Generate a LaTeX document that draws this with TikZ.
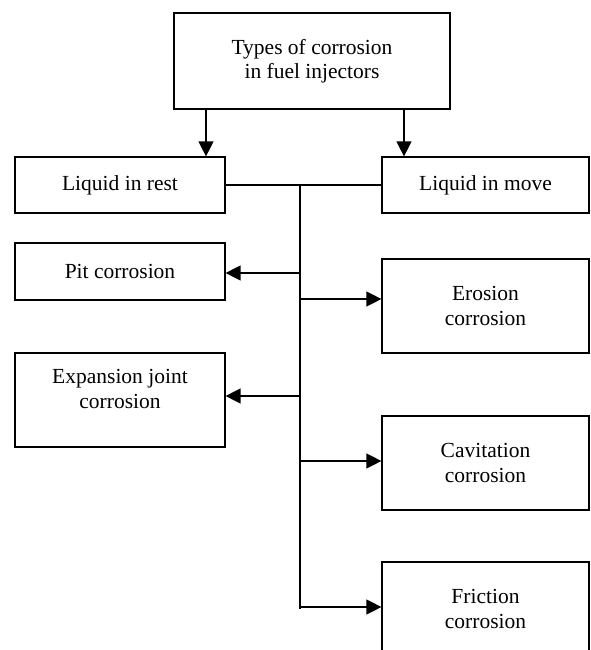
\documentclass[tikz,border=0pt]{standalone}
\usepackage{fontspec}
\setmainfont{Liberation Serif}
\usetikzlibrary{arrows.meta}
\tikzset{
		box/.style={draw, line width=1.2pt, align=center, inner sep=0pt, font=\fontsize{21.5}{24.5}\selectfont},
		wide/.style={box, minimum width=210pt},
		caption/.style={align=center, inner sep=0pt, font=\fontsize{21.5}{24.5}\selectfont},
		arr/.style={line width=1.3pt, -{Triangle[length=15pt, width=15pt]}},
		link/.style={line width=1.3pt},
}
\begin{document}
\begin{tikzpicture}[x=1pt, y=-1pt]
		\useasboundingbox (0,0) rectangle (590,650);
		\clip (0,0) rectangle (590,650);

		\node[box, minimum width=276pt, minimum height=96pt] (types) at (312,61) {Types of corrosion\\in fuel injectors};
		\node[wide, minimum height=56pt] (rest) at (120,185) {Liquid in rest};
		\node[wide, minimum width=207pt, minimum height=56pt] (move) at (485.5,185) {Liquid in move};
		\node[wide, minimum height=57pt] (pit) at (120,271.5) {Pit corrosion};
		\node[wide, minimum height=94pt] (expansion) at (120,400) {};
		\node[caption] (expansiontext) at (120,389) {Expansion joint\\corrosion};
		\node[wide, minimum width=207pt, minimum height=94pt] (erosion) at (485.5,306) {Erosion\\corrosion};
		\node[wide, minimum width=207pt, minimum height=94pt] (cavitation) at (485.5,463) {Cavitation\\corrosion};
		\node[wide, minimum width=207pt, minimum height=94pt] (friction) at (485.5,609) {Friction\\corrosion};

		\draw[arr] ([xshift=-106pt]types.south) coordinate (ta) -- (ta |- rest.north);
		\draw[arr] ([xshift=92pt]types.south) coordinate (tb) -- (tb |- move.north);

		\coordinate (hub) at (300,185);
		\coordinate (foot) at (300,609);
		\draw[link] (rest.east) -- (move.west);
		\draw[link] (hub) -- (foot);

		\coordinate (b1) at (300,273);
		\coordinate (b2) at (300,299);
		\coordinate (b3) at (300,396);
		\coordinate (b4) at (300,461);
		\coordinate (b5) at (300,607);
		\draw[arr] (b1) -- (b1 -| pit.east);
		\draw[arr] (b2) -- (b2 -| erosion.west);
		\draw[arr] (b3) -- (b3 -| expansion.east);
		\draw[arr] (b4) -- (b4 -| cavitation.west);
		\draw[arr] (b5) -- (b5 -| friction.west);
	\end{tikzpicture}
\end{document}
